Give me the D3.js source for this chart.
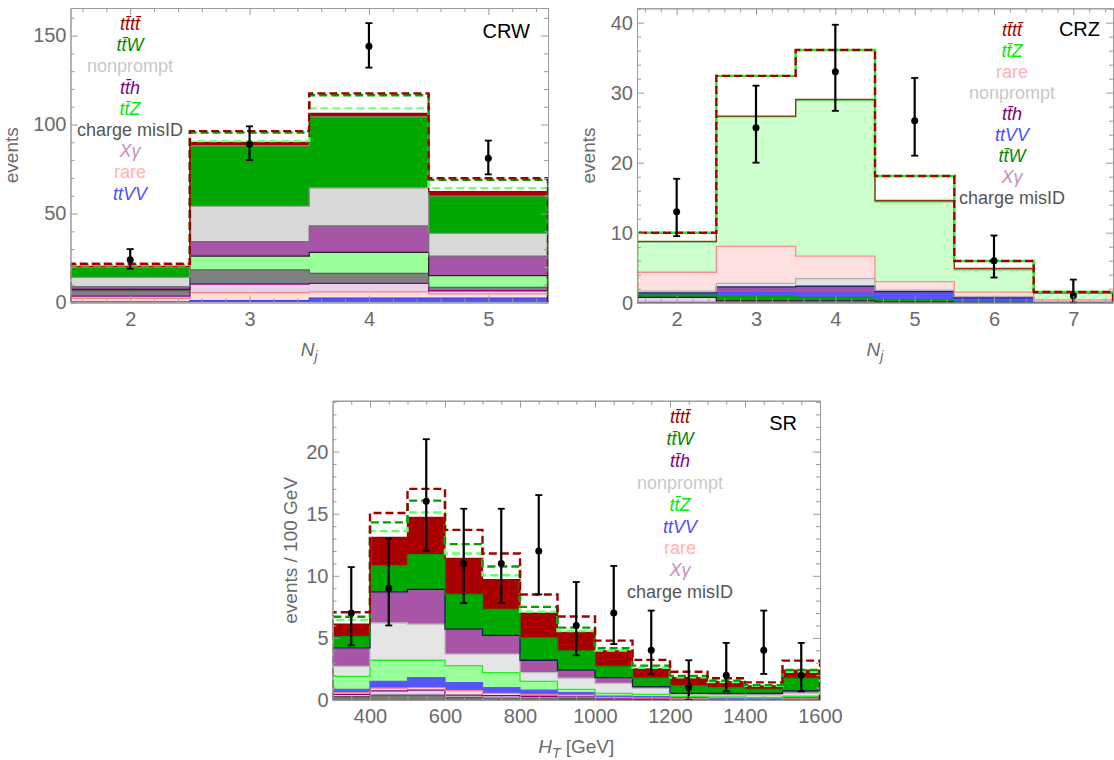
<!DOCTYPE html>
<html>
<head>
<meta charset="utf-8">
<script src="https://cdn.jsdelivr.net/npm/d3@7"></script>
<style>
body { margin: 0; background: #fff; }
text { font-family: "Liberation Sans", Arial, sans-serif; }
</style>
</head>
<body>
<div id="chart"></div>
<script>
// ---- CRW control region (N_j) ----
const crwBins = [2, 3, 4, 5];
const crwTtvv = [0.3, 1.0, 2.5, 2.5];
const crwRare = [2.1, 4.5, 3.5, 2.3];
const crwXg = [1.2, 4.9, 4.8, 1.8];
const crwCmid = [3.0, 7.9, 5.6, 1.9];
const crwTtz = [0.8, 7.8, 11.8, 6.6];
const crwTth = [1.5, 8.1, 14.8, 11.0];
const crwNonprompt = [5.2, 20.0, 21.5, 12.8];
const crwTtw = [5.7, 33.9, 39.9, 20.9];
const crwTttt = [0.5, 1.9, 1.9, 2.5];
const crwDashRed = [21.8, 96.3, 117.5, 69.8];
const crwDashGreen = [21.4, 95.5, 116.5, 68.9];
const crwDashLight = [20.9, 90.7, 109.1, 64.2];
const crwData = [24, 89, 144, 81];
const crwLo = [19, 80, 132, 72];
const crwHi = [30, 99, 157, 91];
const crwXTicks = [2, 3, 4, 5];
const crwYTicks = [0, 50, 100, 150];

// ---- CRZ control region (N_j) ----
const crzBins = [2, 3, 4, 5, 6, 7];
const crzCmid = [0.05, 0.05, 0.05, 0.03, 0.02, 0.01];
const crzXg = [0.7, 0.2, 0.2, 0.07, 0.03, 0.01];
const crzTtw = [0.4, 0.7, 0.5, 0.3, 0.05, 0.03];
const crzTtvv = [0.1, 0.6, 0.6, 1.0, 0.5, 0.05];
const crzTth = [0.15, 0.7, 1.0, 0.2, 0.1, 0.05];
const crzNonprompt = [0.25, 0.5, 1.1, 0.2, 0.2, 0.05];
const crzRare = [2.7, 5.3, 3.2, 1.2, 0.6, 0.2];
const crzTtz = [4.3, 18.5, 22.2, 11.4, 3.2, 0.95];
const crzTttt = [0.1, 0.1, 0.2, 0.2, 0.2, 0.05];
const crzDash = [10.0, 32.4, 36.1, 18.1, 5.95, 1.55];
const crzData = [13, 25, 33, 26, 6, 1];
const crzLo = [9.5, 20, 27.4, 21, 3.6, 0];
const crzHi = [17.7, 31, 39.7, 32.1, 9.6, 3.3];
const crzXTicks = [2, 3, 4, 5, 6, 7];
const crzYTicks = [0, 10, 20, 30, 40];

// ---- SR signal region (H_T, GeV) ----
const srBins = [350, 450, 550, 650, 750, 850, 950, 1050, 1150, 1250, 1350, 1450, 1550];
const srCmid = [0.27, 0.4, 0.4, 0.2, 0.15, 0.15, 0.1, 0.05, 0.05, 0.03, 0.02, 0.02, 0.03];
const srXg = [0.18, 0.33, 0.4, 0.2, 0.2, 0.15, 0.15, 0.1, 0.05, 0.04, 0.03, 0.03, 0.04];
const srRare = [0.15, 0.22, 0.2, 0.36, 0.19, 0.15, 0.15, 0.05, 0.06, 0.03, 0.05, 0.05, 0.03];
const srTtvv = [0.25, 0.55, 0.8, 0.64, 0.46, 0.35, 0.2, 0.12, 0.11, 0.1, 0.05, 0.05, 0.1];
const srTtz = [1.05, 1.7, 1.4, 1.37, 1.2, 0.7, 0.25, 0.22, 0.19, 0.1, 0.1, 0.05, 0.1];
const srNonprompt = [0.8, 3.0, 2.9, 0.93, 1.5, 0.7, 0.9, 0.8, 0.48, 0.15, 0.15, 0.2, 0.25];
const srTth = [1.5, 2.5, 2.8, 2.0, 1.5, 1.0, 0.65, 0.46, 0.14, 0.09, 0.14, 0.14, 0.18];
const srTtw = [0.9, 2.1, 2.8, 2.8, 2.1, 1.8, 1.55, 0.9, 0.67, 0.59, 0.46, 0.32, 1.02];
const srTttt = [1.0, 2.3, 3.0, 2.9, 2.4, 2.0, 1.5, 1.25, 0.75, 0.67, 0.48, 0.27, 0.65];
const srDashRed = [7.07, 15.06, 17.0, 13.7, 11.8, 8.5, 6.72, 4.78, 3.23, 2.28, 1.75, 1.42, 3.17];
const srDashGreen = [6.7, 14.3, 16.05, 12.55, 10.75, 7.5, 5.83, 4.17, 2.77, 1.94, 1.56, 1.2, 2.42];
const srDashLight = [6.45, 13.6, 15.1, 11.8, 10.05, 7.1, 5.56, 3.98, 2.6, 1.83, 1.45, 1.15, 2.28];
const srData = [7, 9, 16, 11, 11, 12, 6, 7, 4, 1, 2, 4, 2];
const srLo = [4.4, 6, 12, 7.8, 7.8, 8.5, 3.6, 4.5, 2.1, 0, 0.7, 2.1, 0.7];
const srHi = [10.7, 13, 21, 15.4, 15.4, 16.5, 9.5, 10.8, 7.2, 3.2, 4.6, 7.2, 4.6];
const srXTicks = [400, 600, 800, 1000, 1200, 1400, 1600];
const srYTicks = [0, 5, 10, 15, 20];

// legend labels (top to bottom) for each panel
const crwLegend = ["tttt", "ttW", "nonprompt", "tth", "ttZ", "cmid", "xg", "rare", "ttVV"];
const crzLegend = ["tttt", "ttZ", "rare", "nonprompt", "tth", "ttVV", "ttW", "xg", "cmid"];
const srLegend = ["tttt", "ttW", "tth", "nonprompt", "ttZ", "ttVV", "rare", "xg", "cmid"];

const labelText = {
    tttt: "tt\u0304tt\u0304", ttW: "tt\u0304W", tth: "tt\u0304h", ttZ: "tt\u0304Z", ttVV: "ttVV",
    xg: "X\u03b3", rare: "rare", nonprompt: "nonprompt", cmid: "charge misID"
};
const italicLabels = ["tttt", "ttW", "tth", "ttZ", "ttVV", "xg"];
const labelColor = {
    tttt: "#a00000", ttW: "#008a00", tth: "#800080", ttZ: "#00ee00", ttVV: "#4d4dff",
    xg: "#c88cc8", rare: "#ffb3b3", nonprompt: "#c8c8c8", cmid: "#555555"
};

const svg = d3.select("#chart")
    .append("svg")
    .attr("width", 1114)
    .attr("height", 760);

let panels = [
    {
        tag: "CRW", bins: crwBins, w: 1,
        x: d3.scaleLinear().domain([1.5, 5.5]).range([70.5, 548]),
        y: d3.scaleLinear().domain([0, 165.5]).range([302.5, 8]),
        layers: [
            {key: "ttVV", vals: crwTtvv, fill: "#5555ff", edge: "#4040e0"},
            {key: "rare", vals: crwRare, fill: "#ffdede", edge: "#ff8080"},
            {key: "xg", vals: crwXg, fill: "#e8d0e8", edge: "#900090"},
            {key: "cmid", vals: crwCmid, fill: "#808080", edge: "#606060"},
            {key: "ttZ", vals: crwTtz, fill: "#99ff99", edge: "#222222"},
            {key: "tth", vals: crwTth, fill: "#a855a8", edge: "#707070"},
            {key: "nonprompt", vals: crwNonprompt, fill: "#d9d9d9", edge: "#8c8c8c"},
            {key: "ttW", vals: crwTtw, fill: "#00a800", edge: "#6a8a6a"},
            {key: "tttt", vals: crwTttt, fill: "#a80000", edge: "#a00000"}
        ],
        dashed: [
            {vals: crwDashLight, color: "#77ff77", offset: 0},
            {vals: crwDashGreen, color: "#00a000", offset: 0},
            {vals: crwDashRed, color: "#a00000", offset: 0}
        ],
        data: crwData, lo: crwLo, hi: crwHi,
        xTicks: crwXTicks, xMinor: d3.range(1.6, 5.5, 0.2), yTicks: crwYTicks, yMinor: d3.range(0, 166, 10),
        legend: crwLegend, legendX: 130, legendY: 24, legendDy: 21.2,
        tagX: 530, tagY: 38,
        ylabel: "events", ylabelX: 18, xlabel: ["N", "j", ""]
    },
    {
        tag: "CRZ", bins: crzBins, w: 1,
        x: d3.scaleLinear().domain([1.5, 7.5]).range([637, 1113]),
        y: d3.scaleLinear().domain([0, 42.05]).range([302.7, 8.3]),
        layers: [
            {key: "cmid", vals: crzCmid, fill: "#808080", edge: "#404040"},
            {key: "xg", vals: crzXg, fill: "#e8cce8", edge: "#500050"},
            {key: "ttW", vals: crzTtw, fill: "#00a800", edge: "#00a000"},
            {key: "ttVV", vals: crzTtvv, fill: "#5555ff", edge: "#5555ff"},
            {key: "tth", vals: crzTth, fill: "#a050b0", edge: "#20206a"},
            {key: "nonprompt", vals: crzNonprompt, fill: "#e3e3e3", edge: "#b0b0b0"},
            {key: "rare", vals: crzRare, fill: "#ffe0e0", edge: "#ff8a8a"},
            {key: "ttZ", vals: crzTtz, fill: "#ccffcc", edge: "#66cc66"},
            {key: "tttt", vals: crzTttt, fill: "#a03000", edge: "#8b3a10"}
        ],
        dashed: [
            {vals: crzDash, color: "#22ee22", offset: 6},
            {vals: crzDash, color: "#a00000", offset: 0}
        ],
        data: crzData, lo: crzLo, hi: crzHi,
        xTicks: crzXTicks, xMinor: d3.range(1.6, 7.5, 0.2), yTicks: crzYTicks, yMinor: d3.range(0, 42.1, 2),
        legend: crzLegend, legendX: 1012, legendY: 30, legendDy: 21,
        tagX: 1100, tagY: 36,
        ylabel: "events", ylabelX: 595, xlabel: ["N", "j", ""]
    },
    {
        tag: "SR", bins: srBins, w: 100,
        x: d3.scaleLinear().domain([300, 1600]).range([332.5, 820]),
        y: d3.scaleLinear().domain([0, 24.1]).range([700, 400.7]),
        layers: [
            {key: "cmid", vals: srCmid, fill: "#7a7a7a", edge: "#555555"},
            {key: "xg", vals: srXg, fill: "#e6cce6", edge: "#800080"},
            {key: "rare", vals: srRare, fill: "#ffe0e0", edge: "#ff8080"},
            {key: "ttVV", vals: srTtvv, fill: "#5555ff", edge: "#5a5aff"},
            {key: "ttZ", vals: srTtz, fill: "#99ff99", edge: "#22ee22"},
            {key: "nonprompt", vals: srNonprompt, fill: "#e5e5e5", edge: "#bdbdbd"},
            {key: "tth", vals: srTth, fill: "#a855a8", edge: "#1a1a50"},
            {key: "ttW", vals: srTtw, fill: "#00a800", edge: "#009a00"},
            {key: "tttt", vals: srTttt, fill: "#a80000", edge: "#a00000"}
        ],
        dashed: [
            {vals: srDashLight, color: "#66ff66", offset: 0},
            {vals: srDashGreen, color: "#00a000", offset: 0},
            {vals: srDashRed, color: "#a00000", offset: 0}
        ],
        data: srData, lo: srLo, hi: srHi,
        xTicks: srXTicks, xMinor: d3.range(350, 1600, 50), yTicks: srYTicks, yMinor: d3.range(0, 24.1, 1),
        legend: srLegend, legendX: 680, legendY: 417, legendDy: 21.9,
        tagX: 797, tagY: 430,
        ylabel: "events / 100 GeV", ylabelX: 297, xlabel: ["H", "T", " [GeV]"]
    }
];

panels.forEach(drawPanel);

function drawPanel(p) {
    let left = p.x.range()[0], right = p.x.range()[1];
    let bottom = p.y.range()[0], top = p.y.range()[1];
    let g = svg.append("g");

    g.append("clipPath").attr("id", "clip" + p.tag)
        .append("rect")
        .attr("x", left).attr("y", top)
        .attr("width", right - left).attr("height", bottom - top);
    let plot = g.append("g").attr("clip-path", `url(#clip${p.tag})`);

    // stacked histogram
    let rows = p.bins.map(function(b, i) {
        let r = {bin: b};
        p.layers.forEach(l => r[l.key] = l.vals[i]);
        return r;
    });
    let series = d3.stack().keys(p.layers.map(l => l.key))(rows);
    let area = d3.area().curve(d3.curveStepAfter)
        .x(d => p.x(d.e)).y0(d => p.y(d.lo)).y1(d => p.y(d.hi));
    let topLine = d3.line().curve(d3.curveStepAfter)
        .x(d => p.x(d.e)).y(d => p.y(d.hi));
    let layerPts = series.map(function(s) {
        let pts = s.map((d, i) => ({e: p.bins[i] - p.w / 2, lo: d[0], hi: d[1]}));
        let last = s[s.length - 1];
        pts.push({e: p.bins[p.bins.length - 1] + p.w / 2, lo: last[0], hi: last[1]});
        return pts;
    });
    layerPts.forEach(function(pts, k) {
        plot.append("path").attr("d", area(pts)).attr("fill", p.layers[k].fill);
    });
    layerPts.forEach(function(pts, k) {
        plot.append("path").attr("d", topLine(pts))
            .attr("fill", "none")
            .attr("stroke", p.layers[k].edge)
            .attr("stroke-width", 1.3);
    });

    // dashed alternative totals
    let dline = d3.line().curve(d3.curveStepAfter).x(d => p.x(d[0])).y(d => p.y(d[1]));
    p.dashed.forEach(function(dl) {
        let pts = p.bins.map((b, i) => [b - p.w / 2, dl.vals[i]]);
        let xEnd = p.bins[p.bins.length - 1] + p.w / 2;
        pts.push([xEnd, dl.vals[dl.vals.length - 1]]);
        pts.unshift([pts[0][0], 0]);
        pts.push([xEnd, 0]);
        plot.append("path").attr("d", dline(pts))
            .attr("fill", "none")
            .attr("stroke", dl.color)
            .attr("stroke-width", 2.4)
            .attr("stroke-dasharray", "8,4")
            .attr("stroke-dashoffset", dl.offset);
    });

    // data points with error bars
    let pts = g.append("g").selectAll("g").data(p.bins).enter().append("g");
    pts.append("line")
        .attr("x1", d => p.x(d)).attr("x2", d => p.x(d))
        .attr("y1", (d, i) => p.y(p.lo[i])).attr("y2", (d, i) => p.y(p.hi[i]))
        .attr("stroke", "#000").attr("stroke-width", 2.2);
    [p.lo, p.hi].forEach(function(arr) {
        pts.append("line")
            .attr("x1", d => p.x(d) - 3.5).attr("x2", d => p.x(d) + 3.5)
            .attr("y1", (d, i) => p.y(arr[i])).attr("y2", (d, i) => p.y(arr[i]))
            .attr("stroke", "#000").attr("stroke-width", 1.8);
    });
    pts.append("circle")
        .attr("cx", d => p.x(d)).attr("cy", (d, i) => p.y(p.data[i]))
        .attr("r", 3.5).attr("fill", "#000");

    // frame with inward ticks on all sides
    let xMinor = p.xMinor.filter(v => !p.xTicks.some(t => Math.abs(t - v) < 1e-6));
    let yMinor = p.yMinor.filter(v => !p.yTicks.some(t => Math.abs(t - v) < 1e-6));
    let axes = [
        [d3.axisBottom(p.x).tickValues(p.xTicks).tickSize(-7).tickPadding(9).tickFormat(d3.format("d")), `translate(0,${bottom})`],
        [d3.axisBottom(p.x).tickValues(xMinor).tickSize(-4).tickFormat(""), `translate(0,${bottom})`],
        [d3.axisTop(p.x).tickValues(p.xTicks).tickSize(-7).tickFormat(""), `translate(0,${top})`],
        [d3.axisTop(p.x).tickValues(xMinor).tickSize(-4).tickFormat(""), `translate(0,${top})`],
        [d3.axisLeft(p.y).tickValues(p.yTicks).tickSize(-7).tickPadding(4).tickFormat(d3.format("d")), `translate(${left},0)`],
        [d3.axisLeft(p.y).tickValues(yMinor).tickSize(-4).tickFormat(""), `translate(${left},0)`],
        [d3.axisRight(p.y).tickValues(p.yTicks).tickSize(-7).tickFormat(""), `translate(${right},0)`],
        [d3.axisRight(p.y).tickValues(yMinor).tickSize(-4).tickFormat(""), `translate(${right},0)`]
    ];
    axes.forEach(function(a) {
        let ax = g.append("g").attr("transform", a[1]).call(a[0].tickSizeOuter(0));
        ax.select(".domain").attr("stroke", "#9a9a9a");
        ax.selectAll(".tick line").attr("stroke", "#9a9a9a");
        ax.selectAll("text")
            .attr("fill", "#6a6a6a")
            .style("font-size", "20px")
            .style("font-family", "'Liberation Sans', Arial, sans-serif");
    });

    // axis labels
    g.append("text")
        .attr("transform", `translate(${p.ylabelX}, ${(top + bottom) / 2}) rotate(-90)`)
        .style("text-anchor", "middle")
        .style("font-size", "19px")
        .attr("fill", "#6a6a6a")
        .text(p.ylabel);
    let xl = g.append("text")
        .attr("x", (left + right) / 2)
        .attr("y", bottom + 53)
        .style("text-anchor", "middle")
        .style("font-size", "19px")
        .attr("fill", "#6a6a6a");
    xl.append("tspan").style("font-style", "italic").text(p.xlabel[0]);
    xl.append("tspan").style("font-style", "italic").style("font-size", "14px").attr("dy", 5).text(p.xlabel[1]);
    if (p.xlabel[2]) xl.append("tspan").attr("dy", -5).text(p.xlabel[2]);

    // panel tag
    g.append("text")
        .attr("x", p.tagX).attr("y", p.tagY)
        .style("text-anchor", "end")
        .style("font-size", "20px")
        .attr("fill", "#000")
        .text(p.tag);

    // legend
    p.legend.forEach(function(key, i) {
        g.append("text")
            .attr("x", p.legendX)
            .attr("y", p.legendY + i * p.legendDy + 6)
            .style("text-anchor", "middle")
            .style("font-size", "18px")
            .style("font-style", italicLabels.includes(key) ? "italic" : "normal")
            .attr("fill", labelColor[key])
            .text(labelText[key]);
    });
}
</script>
</body>
</html>
